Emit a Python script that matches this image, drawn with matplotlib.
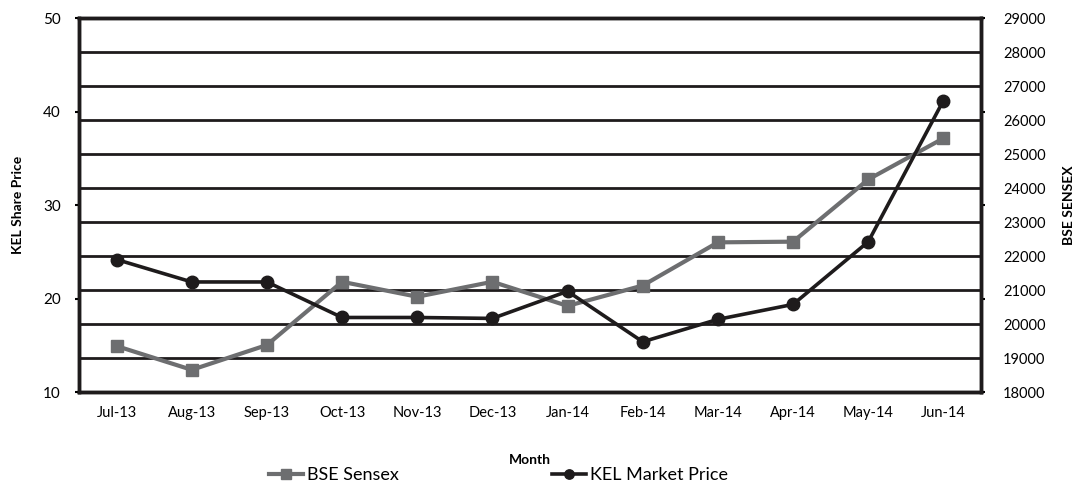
import matplotlib
matplotlib.use('Agg')
import matplotlib.pyplot as plt

months = ['Jul-13', 'Aug-13', 'Sep-13', 'Oct-13', 'Nov-13', 'Dec-13',
          'Jan-14', 'Feb-14', 'Mar-14', 'Apr-14', 'May-14', 'Jun-14']
bse_sensex = [19360, 18660, 19390, 21250, 20810, 21250,
              20540, 21140, 22410, 22430, 24260, 25470]
kel_price = [24.2, 21.8, 21.8, 18.0, 18.0, 17.9,
             20.8, 15.4, 17.8, 19.4, 26.1, 41.2]

left_ticks = [10, 20, 30, 40, 50]
right_ticks = list(range(18000, 29001, 1000))

plt.rcParams['font.family'] = ['Lato', 'DejaVu Sans']

figure = plt.figure(figsize=(10.76, 4.87), dpi=100)
ax = figure.add_axes([0.0734, 0.1945, 0.8383, 0.7679])
ax2 = ax.twinx()

# grid + sensex go underneath, KEL line on top
ax2.set_zorder(ax.get_zorder() - 1)
ax.patch.set_visible(False)

x = list(range(len(months)))

l1, = ax2.plot(x, bse_sensex, color='#6d6e70', linewidth=3, marker='s',
               markersize=9, label='BSE Sensex')
l2, = ax.plot(x, kel_price, color='#1e1b1c', linewidth=2.6, marker='o',
              markersize=9, label='KEL Market Price')

ax2.set_ylim(18000, 29000)
ax2.set_yticks(right_ticks)
ax2.grid(axis='y', color='#1e1b1c', linewidth=2)
ax2.tick_params(axis='y', length=0, pad=16, labelsize=10.5)
ax2.set_ylabel('BSE SENSEX', fontweight='bold', fontsize=10, labelpad=12)

ax.set_ylim(10, 50)
ax.set_yticks(left_ticks)
ax.yaxis.set_ticks_position('both')
ax.tick_params(axis='y', length=3, width=1.5, direction='out', pad=10,
               labelsize=11, labelright=False)
ax.set_ylabel('KEL Share Price', fontweight='bold', fontsize=10, labelpad=14)

ax.set_xlim(-0.5, len(months) - 0.5)
ax.set_xticks(x)
ax.set_xticklabels(months)
ax.tick_params(axis='x', length=0, pad=10, labelsize=10.5)
ax.set_xlabel('Month', fontweight='bold', fontsize=10, labelpad=24)

for a in (ax, ax2):
    for s in a.spines.values():
        s.set_linewidth(2.5)
        s.set_color('#1e1b1c')

figure.legend(handles=[l1, l2], loc='lower center', bbox_to_anchor=(0.463, -0.025),
              ncol=2, frameon=False, fontsize=13, columnspacing=8.5,
              handlelength=1.9, handletextpad=0.2, markerscale=0.75)

plt.savefig('out.png', dpi=100)
